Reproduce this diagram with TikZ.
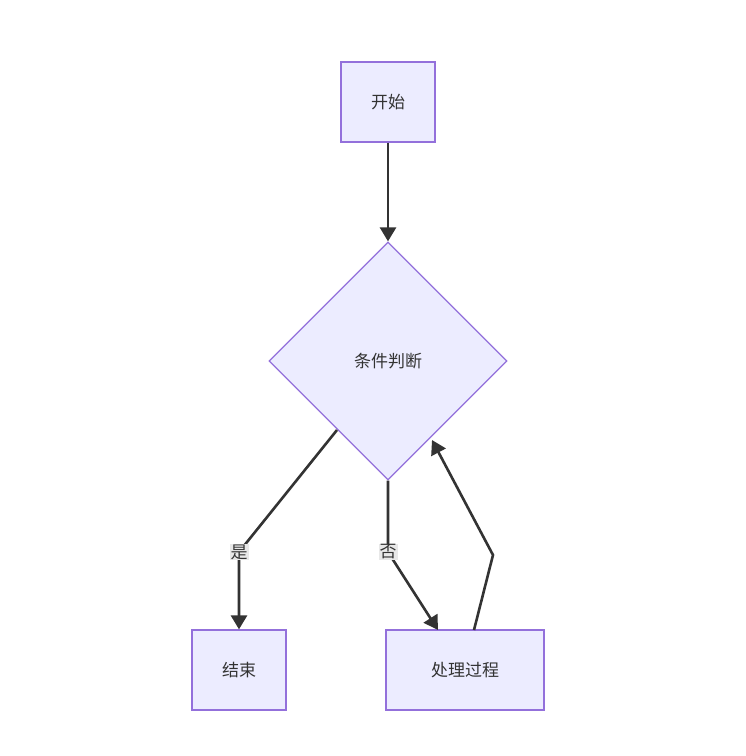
\documentclass[tikz,border=0pt]{standalone}
\usepackage{fontspec}
\setmainfont{Noto Sans CJK SC}
\usetikzlibrary{shapes.geometric,arrows.meta}
\definecolor{nfill}{HTML}{ECECFF}
\definecolor{nborder}{HTML}{9370DB}
\definecolor{ln}{HTML}{333333}
\definecolor{lbl}{HTML}{E8E8E8}
\begin{document}
\begin{tikzpicture}[x=1pt,y=-1pt,
  box/.style={draw=nborder,fill=nfill,line width=1.2pt,minimum height=80pt,inner sep=0pt,font=\fontsize{17}{20}\selectfont,text=ln},
  dia/.style={draw=nborder,fill=nfill,line width=1.2pt,diamond,minimum width=238pt,minimum height=238pt,inner sep=0pt,font=\fontsize{17}{20}\selectfont,text=ln},
  edge/.style={draw=ln,line width=2.6pt,-{Triangle[length=14pt,width=16pt]}},
  lab/.style={fill=lbl,inner sep=1pt,font=\fontsize{17}{20}\selectfont,text=ln}]
\useasboundingbox (0,0) rectangle (746,756);
\fill[white] (0,0) rectangle (746,756);
\node[box,minimum width=94pt] (s) at (388,102) {开始};
\node[dia] (d) at (388,361) {条件判断};
\node[box,minimum width=94pt] (e) at (239,670) {结束};
\node[box,minimum width=158pt] (p) at (465,670) {处理过程};
\coordinate (y1) at (239,552);
\coordinate (n1) at (388,552);
\coordinate (r1) at (493,555);
\draw[edge] (s) -- (d.north);
\draw[edge] (337,430) -- (y1) -- (e.north);
\draw[edge] (d.south) -- (n1) -- (438,630);
\draw[edge] (474,630) -- (r1) -- (432,440);
\node[lab] at (y1) {是};
\node[lab] at (n1) {否};
\end{tikzpicture}
\end{document}
